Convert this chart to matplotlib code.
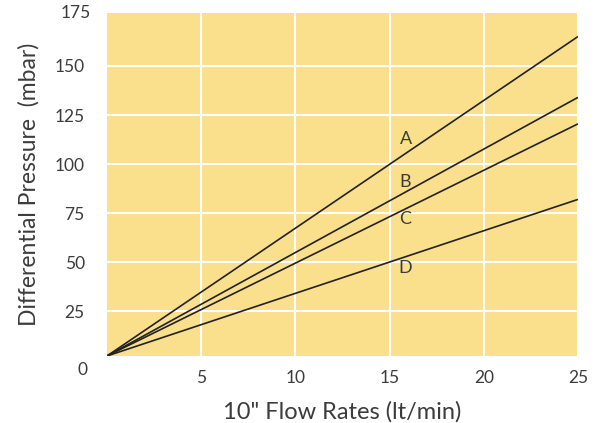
import matplotlib
matplotlib.use("Agg")
import matplotlib.pyplot as plt

# data
flow = [0, 25]                      # lt/min
series_names = ["A", "B", "C", "D"]
pressure_A = [2.2, 165.0]
pressure_B = [2.2, 134.0]
pressure_C = [2.2, 120.5]
pressure_D = [2.2, 82.0]
label_x = [15.85, 15.85, 15.85, 15.85]
label_y = [112.8, 91.0, 72.0, 47.0]

x_ticks = [5, 10, 15, 20, 25]
y_ticks = [25, 50, 75, 100, 125, 150]

plt.rcParams["font.family"] = ["Lato", "DejaVu Sans"]
TXT = "#3c3c3c"
BG = "#fae08c"

fig = plt.figure(figsize=(6.03, 4.23), dpi=100)
ax = fig.add_axes([0.1774, 0.1584, 0.7811, 0.8109])
ax.set_facecolor(BG)

for ys in (pressure_A, pressure_B, pressure_C, pressure_D):
    ax.plot(flow, ys, color="#222222", lw=1.2, solid_capstyle="butt")

for name, lx, ly in zip(series_names, label_x, label_y):
    ax.text(lx, ly, name, fontsize=13, color=TXT, ha="center", va="center")

ax.set_xlim(0, 25)
ax.set_ylim(2.2, 177)
ax.set_xticks(x_ticks)
ax.set_yticks(y_ticks)
ax.grid(True, color="white", lw=1.5)
ax.set_axisbelow(True)
ax.tick_params(length=0, labelsize=12.5, labelcolor=TXT, pad=10)
ax.tick_params(axis="y", pad=16)
for s in ax.spines.values():
    s.set_visible(False)

# corner labels without gridlines
ax.text(-0.0515, -0.04, "0", transform=ax.transAxes, fontsize=12.5,
        color=TXT, ha="center", va="center")
ax.text(-0.034, 1.0, "175", transform=ax.transAxes, fontsize=12.5,
        color=TXT, ha="right", va="center")

ax.set_xlabel('10" Flow Rates (lt/min)', fontsize=17, color=TXT, labelpad=11)
ax.set_ylabel("Differential Pressure  (mbar)", fontsize=16.5, color=TXT,
              labelpad=11)

fig.savefig("out.png", dpi=100)
